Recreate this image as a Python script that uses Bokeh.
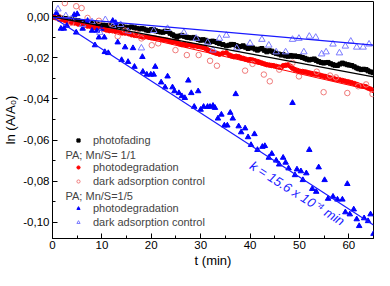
from bokeh.plotting import figure
from bokeh.models import (Range1d, FixedTicker, CustomJSTickFormatter, Legend,
                          LegendItem, Label)
from bokeh.embed import file_html
from bokeh.resources import INLINE

FONT = "Liberation Sans"

# ---------------- data ----------------
t_dense = [0.0, 0.6, 1.3, 1.9, 2.6, 3.2, 3.9, 4.5, 5.2, 5.8, 6.4, 7.1, 7.7, 8.4, 9.0, 9.6,
           10.3, 10.9, 11.5, 12.2, 12.8, 13.5, 14.1, 14.7, 15.4, 16.0, 16.6, 17.1, 17.6,
           18.1, 18.5, 19.0, 19.5, 20.0, 20.5, 20.9, 21.4, 21.9, 22.4, 22.8, 23.3, 23.8,
           24.3, 24.7, 25.2, 25.7, 26.2, 26.7, 27.2, 27.6, 28.1, 28.6, 29.1, 29.5, 30.0,
           30.5, 31.0, 31.4, 31.9, 32.4, 32.9, 33.3, 33.8, 34.5, 35.2, 35.8, 36.2, 36.7,
           37.2, 37.7, 38.1, 38.6, 39.1, 39.6, 40.0, 40.5, 41.0, 41.5, 41.9, 42.4, 42.9,
           43.4, 43.9, 44.4, 44.8, 45.3, 45.8, 46.3, 46.7, 47.2, 47.7, 48.2, 48.6, 49.1,
           49.6, 50.1, 50.6, 51.1, 51.5, 52.0, 52.5, 53.0, 53.4, 53.9, 54.4, 54.9, 55.3,
           55.8, 56.3, 56.8, 57.2, 57.7, 58.2, 58.7, 59.2, 59.7, 60.1, 60.6, 61.1, 61.6,
           62.0, 62.5, 63.0, 63.5, 63.9, 64.4, 64.9]

photofading = [0.0000, -0.0001, -0.0003, -0.0006, -0.0008, -0.0011, -0.0014, -0.0016,
               -0.0019, -0.0024, -0.0027, -0.0028, -0.0030, -0.0033, -0.0035, -0.0039,
               -0.0040, -0.0042, -0.0043, -0.0045, -0.0046, -0.0044, -0.0046, -0.0050,
               -0.0051, -0.0049, -0.0053, -0.0056, -0.0059, -0.0057, -0.0059, -0.0064,
               -0.0067, -0.0062, -0.0063, -0.0068, -0.0071, -0.0074, -0.0075, -0.0070,
               -0.0071, -0.0080, -0.0087, -0.0093, -0.0099, -0.0093, -0.0090, -0.0095,
               -0.0099, -0.0101, -0.0103, -0.0100, -0.0106, -0.0110, -0.0114, -0.0111,
               -0.0114, -0.0119, -0.0122, -0.0118, -0.0120, -0.0125, -0.0130, -0.0135,
               -0.0141, -0.0138, -0.0134, -0.0135, -0.0140, -0.0146, -0.0144, -0.0141,
               -0.0148, -0.0154, -0.0150, -0.0151, -0.0157, -0.0162, -0.0157, -0.0154,
               -0.0163, -0.0170, -0.0165, -0.0167, -0.0173, -0.0178, -0.0181, -0.0186,
               -0.0184, -0.0190, -0.0192, -0.0188, -0.0192, -0.0190, -0.0193, -0.0194,
               -0.0198, -0.0202, -0.0206, -0.0210, -0.0207, -0.0205, -0.0212, -0.0218,
               -0.0222, -0.0225, -0.0223, -0.0222, -0.0228, -0.0233, -0.0236, -0.0237,
               -0.0230, -0.0225, -0.0229, -0.0233, -0.0235, -0.0237, -0.0243, -0.0249,
               -0.0253, -0.0257, -0.0255, -0.0257, -0.0263, -0.0268, -0.0272]

photodeg_11 = [0.0000, -0.0004, -0.0011, -0.0013, -0.0019, -0.0024, -0.0027, -0.0030,
               -0.0035, -0.0036, -0.0040, -0.0045, -0.0046, -0.0051, -0.0056, -0.0055,
               -0.0059, -0.0064, -0.0067, -0.0068, -0.0071, -0.0076, -0.0078, -0.0079,
               -0.0082, -0.0087, -0.0090, -0.0091, -0.0094, -0.0097, -0.0099, -0.0096,
               -0.0099, -0.0102, -0.0103, -0.0104, -0.0106, -0.0109, -0.0110, -0.0112,
               -0.0114, -0.0119, -0.0122, -0.0121, -0.0125, -0.0131, -0.0135, -0.0133,
               -0.0138, -0.0135, -0.0138, -0.0142, -0.0141, -0.0144, -0.0146, -0.0149,
               -0.0154, -0.0160, -0.0166, -0.0171, -0.0175, -0.0178, -0.0182, -0.0177,
               -0.0175, -0.0186, -0.0190, -0.0194, -0.0192, -0.0194, -0.0199, -0.0202,
               -0.0206, -0.0210, -0.0208, -0.0210, -0.0214, -0.0218, -0.0221, -0.0225,
               -0.0229, -0.0233, -0.0235, -0.0237, -0.0238, -0.0241, -0.0244, -0.0246,
               -0.0238, -0.0236, -0.0234, -0.0241, -0.0250, -0.0257, -0.0261, -0.0265,
               -0.0266, -0.0268, -0.0270, -0.0273, -0.0276, -0.0278, -0.0279, -0.0281,
               -0.0286, -0.0289, -0.0291, -0.0294, -0.0298, -0.0300, -0.0303, -0.0305,
               -0.0307, -0.0310, -0.0313, -0.0316, -0.0318, -0.0321, -0.0325, -0.0329,
               -0.0333, -0.0337, -0.0338, -0.0341, -0.0347, -0.0352, -0.0358]

dark_11_t = [1.3, 2.5, 3.8, 4.8, 5.9, 7.1, 9.4, 11.9, 13.2, 14.7, 17.0, 18.0, 20.1, 21.4,
             24.9, 27.2, 29.6, 31.9, 33.3, 39.0, 40.5, 42.8, 44.0, 45.9, 48.6, 49.9, 53.5,
             54.9, 56.2, 57.4, 59.7, 61.9, 63.5, 64.8]
dark_11 = [0.0000, 0.0067, -0.0029, 0.0052, 0.0043, -0.0005, -0.0019, -0.0033, -0.0095,
           -0.0067, -0.0081, -0.0105, -0.0138, -0.0129, -0.0162, -0.0186, -0.0186, -0.0214,
           -0.0238, -0.0262, -0.0229, -0.0281, -0.0314, -0.0257, -0.0224, -0.0290, -0.0267,
           -0.0367, -0.0286, -0.0295, -0.0371, -0.0338, -0.0329, -0.0376]

photodeg_15_t = [0.8, 1.7, 2.3, 2.9, 4.4, 5.0, 4.8, 6.1, 7.1, 8.0, 8.6, 9.0, 9.4, 9.9, 10.5,
                 10.6, 11.3, 12.2, 12.8, 13.2, 14.0, 14.7, 15.3, 16.3, 16.6, 18.2, 18.3,
                 19.1, 19.9, 20.5, 20.8, 22.0, 22.8, 23.3, 24.3, 24.7, 25.6, 26.2, 26.8,
                 27.5, 28.1, 28.7, 29.5, 30.0, 30.6, 31.4, 31.9, 32.5, 32.9, 33.5, 34.2,
                 34.8, 35.4, 36.0, 36.5, 37.1, 37.7, 38.2, 39.0, 39.6, 40.2, 40.9, 41.5,
                 42.5, 43.0, 43.8, 44.4, 45.3, 45.9, 46.7, 47.2, 47.8, 48.6, 49.1, 49.5,
                 50.3, 50.7, 51.4, 52.0, 52.6, 53.4, 53.9, 55.1, 55.8, 56.8, 57.7, 58.7,
                 59.3, 59.7, 60.2, 61.0, 61.6, 62.1, 63.1, 63.9, 64.4, 65.0]
photodeg_15 = [0.0019, -0.0057, -0.0057, -0.0043, 0.0010, 0.0014, -0.0076, -0.0057, -0.0019,
               -0.0067, -0.0138, -0.0067, -0.0100, -0.0057, -0.0100, -0.0171, -0.0176,
               -0.0019, -0.0029, -0.0124, -0.0210, -0.0148, -0.0219, -0.0152, -0.0243,
               -0.0195, -0.0267, -0.0281, -0.0281, -0.0281, -0.0243, -0.0319, -0.0343,
               -0.0290, -0.0343, -0.0362, -0.0371, -0.0386, -0.0395, -0.0310, -0.0371,
               -0.0438, -0.0362, -0.0452, -0.0438, -0.0438, -0.0438, -0.0433, -0.0443,
               -0.0495, -0.0476, -0.0529, -0.0529, -0.0467, -0.0495, -0.0376, -0.0533,
               -0.0562, -0.0543, -0.0586, -0.0624, -0.0571, -0.0648, -0.0633, -0.0629,
               -0.0686, -0.0667, -0.0700, -0.0719, -0.0686, -0.0710, -0.0738, -0.0419,
               -0.0771, -0.0743, -0.0752, -0.0795, -0.0762, -0.0648, -0.0838, -0.0852,
               -0.0733, -0.0795, -0.0886, -0.0876, -0.0890, -0.0890, -0.0952, -0.0814,
               -0.0962, -0.0938, -0.0986, -0.1019, -0.0981, -0.0995, -0.0962, -0.1057]

dark_15_t = [1.1, 2.7, 3.8, 6.1, 8.0, 9.6, 10.7, 12.2, 13.8, 15.3, 18.0, 20.5, 23.3, 26.6,
             29.1, 31.4, 32.5, 33.8, 35.2, 37.3, 40.0, 42.4, 43.8, 45.3, 47.2, 48.6, 49.9,
             50.9, 52.0, 53.3, 54.5, 55.4, 56.8, 58.1, 59.3, 60.4, 61.6, 62.9, 64.1]
dark_15 = [0.0038, 0.0005, -0.0010, -0.0038, -0.0024, -0.0076, -0.0014, -0.0043, -0.0038,
           -0.0071, -0.0152, -0.0067, -0.0057, -0.0076, -0.0105, -0.0124, -0.0162, -0.0105,
           -0.0090, -0.0152, -0.0129, -0.0110, -0.0138, -0.0171, -0.0171, -0.0110, -0.0105,
           -0.0171, -0.0095, -0.0100, -0.0181, -0.0171, -0.0133, -0.0176, -0.0143, -0.0119,
           -0.0148, -0.0148, -0.0133]

fit_t = [0, 65]
fit_photofading = [0.0, -0.0292]
fit_photodeg_11 = [0.0, -0.0360]
fit_photodeg_15 = [0.0, -0.1014]
fit_dark_15 = [0.0, -0.0138]

x_ticks = [0, 10, 20, 30, 40, 50, 60]
x_minor = [5, 15, 25, 35, 45, 55, 65]
y_ticks = [-0.10, -0.08, -0.06, -0.04, -0.02, 0.0]
y_minor = [-0.11, -0.09, -0.07, -0.05, -0.03, -0.01, 0.01]

k_text = "k = 15.6 x 10\u207b\u2074 min"

# ---------------- figure ----------------
p = figure(width=374, height=270, output_backend="svg", toolbar_location=None,
           x_range=Range1d(0, 65), y_range=Range1d(-0.108, 0.0075),
           min_border_left=40, min_border_right=1, min_border_top=1,
           min_border_bottom=31)
p.grid.visible = False
p.outline_line_color = "black"
p.outline_line_width = 1
p.outline_line_alpha = 1

p.xaxis.ticker = FixedTicker(ticks=x_ticks, minor_ticks=x_minor)
p.yaxis.ticker = FixedTicker(ticks=y_ticks, minor_ticks=y_minor)
p.yaxis.formatter = CustomJSTickFormatter(code="return tick.toFixed(2).replace('.', ',');")

for ax in (p.xaxis[0], p.yaxis[0]):
    ax.major_tick_in = 5
    ax.major_tick_out = 0
    ax.minor_tick_in = 3
    ax.minor_tick_out = 0
    ax.axis_line_color = "black"
    ax.major_tick_line_color = "black"
    ax.minor_tick_line_color = "black"
    ax.major_label_text_font = FONT
    ax.major_label_text_font_size = "11.5px"
    ax.major_label_text_color = "black"
    ax.axis_label_text_font = FONT
    ax.axis_label_text_font_size = "13px"
    ax.axis_label_text_font_style = "normal"
    ax.axis_label_text_color = "black"
    ax.major_label_standoff = 3
    ax.axis_label_standoff = 2

p.xaxis.axis_label = "t (min)"
p.yaxis.axis_label = "ln (A/A\u2080)"
p.xaxis.major_label_standoff = 2
p.xaxis.axis_label_standoff = 1

r_black = p.scatter(t_dense, photofading, marker="square", size=4, color="black")
r_red = p.scatter(t_dense, photodeg_11, marker="circle", size=4.5, color="#ff0000")
r_red_open = p.scatter(dark_11_t, dark_11, marker="circle", size=5.5, fill_color=None,
                       line_color="#f07a7a", line_width=1)
r_blue = p.scatter(photodeg_15_t, photodeg_15, marker="triangle", size=5.5, color="#0000ff")
r_blue_open = p.scatter(dark_15_t, dark_15, marker="triangle", size=6.5, fill_color=None,
                        line_color="#7a7aff", line_width=1)

p.line(fit_t, fit_photodeg_11, color="#ff0000", line_width=1)
p.line(fit_t, fit_photofading, color="black", line_width=1.2)
p.line(fit_t, fit_photodeg_15, color="#1a1aff", line_width=1.2)
p.line(fit_t, fit_dark_15, color="#1a1aff", line_width=1.2)

p.add_layout(Label(x=40.2, y=-0.0719, text=k_text, angle=-0.56, text_color="#1a1aff",
                   text_font=FONT, text_font_size="13px", text_font_style="italic",
                   text_baseline="middle", text_align="left"))

def make_legend(items, loc):
    leg = Legend(items=items, location=loc, padding=0, margin=0, spacing=0,
                 glyph_width=8, glyph_height=14, label_height=14, label_standoff=11,
                 label_text_font=FONT, label_text_font_size="11px",
                 border_line_color=None, background_fill_alpha=0)
    return leg

p.add_layout(make_legend([LegendItem(label="photofading", renderers=[r_black])], (22, 91)))
p.add_layout(make_legend([LegendItem(label="photodegradation", renderers=[r_red]),
                          LegendItem(label="dark adsorption control", renderers=[r_red_open])],
                         (22, 50)))
p.add_layout(make_legend([LegendItem(label="photodegradation", renderers=[r_blue]),
                          LegendItem(label="dark adsorption control", renderers=[r_blue_open])],
                         (22, 9)))
for txt, yy in (("PA; Mn/S= 1/1", 84), ("PA; Mn/S=1/5", 43)):
    p.add_layout(Label(x=13, y=yy, x_units="screen", y_units="screen", text=txt,
                       text_font=FONT, text_font_size="11px", text_baseline="middle",
                       text_align="left"))

open("out.html", "w").write(file_html(p, INLINE))
